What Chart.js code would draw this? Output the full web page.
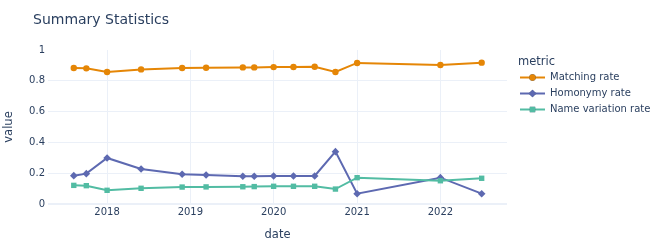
<!DOCTYPE html>
<html>
<head>
<meta charset="utf-8">
<script src="https://cdn.jsdelivr.net/npm/chart.js@4.4.0/dist/chart.umd.min.js"></script>
<style>
  html, body { margin: 0; padding: 0; background: #fff; }
  #wrap { width: 664px; height: 249px; }
</style>
</head>
<body>
<div id="wrap"><canvas id="chart" width="664" height="249"></canvas></div>
<script>
const dates = ["2017-08-08", "2017-10-02", "2018-01-01", "2018-05-30", "2018-11-26", "2019-03-11",
  "2019-08-19", "2019-10-08", "2020-01-01", "2020-03-28", "2020-06-29", "2020-09-28",
  "2021-01-01", "2022-01-01", "2022-07-01"];
const matchingRate = [0.883, 0.881, 0.857, 0.874, 0.883, 0.885, 0.887, 0.887, 0.889, 0.890, 0.891, 0.857, 0.916, 0.903, 0.918];
const homonymyRate = [0.184, 0.197, 0.299, 0.227, 0.193, 0.188, 0.180, 0.180, 0.182, 0.182, 0.182, 0.340, 0.067, 0.171, 0.067];
const nameVariationRate = [0.121, 0.119, 0.089, 0.102, 0.110, 0.111, 0.112, 0.113, 0.115, 0.115, 0.115, 0.097, 0.171, 0.151, 0.167];
const seriesNames = ["Matching rate", "Homonymy rate", "Name variation rate"];
const colors = ["rgb(229,134,6)", "rgb(93,105,177)", "rgb(82,188,163)"];
const markers = ["circle", "rectRot", "rect"];
const yearTicks = ["2018", "2019", "2020", "2021", "2022"];
const xRange = ["2017-04-17", "2022-10-20"];

const FONT = "'DejaVu Sans', sans-serif";
const TEXT = "#2a3f5f";
const GRID = "#EBF0F8";
const radii = [3.2, 3.8, 3.8];

const ms = d => Date.parse(d + "T00:00:00Z");
const toPoints = vals => vals.map((v, i) => ({ x: ms(dates[i]), y: v }));
const allSeries = [matchingRate, homonymyRate, nameVariationRate];

const datasets = allSeries.map((vals, i) => ({
  label: seriesNames[i],
  data: toPoints(vals),
  borderColor: colors[i],
  backgroundColor: colors[i],
  borderWidth: 2,
  pointStyle: markers[i],
  pointRadius: radii[i],
  pointBorderWidth: 0,
  tension: 0,
  order: 3 - i,
}));

// title + plotly-like legend
const decorations = {
  id: "decorations",
  afterDraw(chart) {
    const c = chart.ctx;
    c.save();
    c.fillStyle = TEXT;
    c.textBaseline = "middle";
    c.textAlign = "left";
    c.font = "14px " + FONT;
    c.fillText("Summary Statistics", 33, 20);

    c.font = "11.5px " + FONT;
    c.fillText("metric", 518, 62);
    c.font = "10px " + FONT;
    seriesNames.forEach((name, i) => {
      const y = 77.5 + i * 16;
      c.strokeStyle = colors[i];
      c.lineWidth = 2;
      c.beginPath();
      c.moveTo(520, y);
      c.lineTo(545, y);
      c.stroke();
      Chart.helpers.drawPoint(c, { pointStyle: markers[i], radius: radii[i], borderWidth: 0 }, 532.5, y);
      c.fillStyle = colors[i];
      c.fill();
      c.fillStyle = TEXT;
      c.fillText(name, 550, y);
    });
    c.restore();
  }
};

new Chart(document.getElementById("chart"), {
  type: "line",
  data: { datasets },
  plugins: [decorations],
  options: {
    responsive: false,
    animation: false,
    devicePixelRatio: 1,
    layout: { padding: { top: 50, right: 157, left: 0, bottom: 0 } },
    plugins: { legend: { display: false }, tooltip: { enabled: false } },
    scales: {
      x: {
        type: "linear",
        min: ms(xRange[0]),
        max: ms(xRange[1]),
        afterBuildTicks: s => { s.ticks = yearTicks.map(y => ({ value: ms(y + "-01-01") })); },
        afterFit: s => { s.height = 45; },
        ticks: {
          color: TEXT, font: { family: FONT, size: 10 }, padding: 2, maxRotation: 0,
          callback: v => String(new Date(v).getUTCFullYear()),
        },
        grid: { color: GRID, drawTicks: false },
        border: { display: false },
        title: { display: true, text: "date", color: TEXT, font: { family: FONT, size: 11.5 }, padding: { top: 4, bottom: 7 } },
      },
      y: {
        min: 0,
        max: 1,
        afterFit: s => { s.width = 48; },
        ticks: {
          stepSize: 0.2, color: TEXT, font: { family: FONT, size: 10 }, padding: 3,
          callback: v => String(Math.round(v * 10) / 10),
        },
        grid: {
          drawTicks: false,
          color: ctx => (ctx.tick && ctx.tick.value === 1 ? "rgba(0,0,0,0)" : GRID),
          lineWidth: ctx => (ctx.tick && ctx.tick.value === 0 ? 2 : 1),
        },
        border: { display: false },
        title: { display: true, text: "value", color: TEXT, font: { family: FONT, size: 11.5 }, padding: { top: 2, bottom: 4 } },
      },
    },
  },
});
</script>
</body>
</html>
